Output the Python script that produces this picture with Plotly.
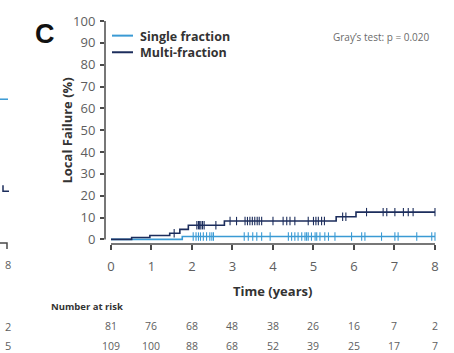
import plotly.graph_objects as go

# Cumulative incidence of local failure (%), step functions
single_event_times = [1.76]
single_event_values = [1.3]
multi_event_times = [0.51, 0.96, 1.45, 1.70, 1.91, 2.80, 5.56, 6.05]
multi_event_values = [0.9, 1.8, 2.8, 4.6, 6.5, 8.4, 10.4, 12.5]

# Censoring times (years)
single_censor = [2.03, 2.10, 2.16, 2.21, 2.28, 2.36, 2.44, 2.49, 2.53,
                 3.29, 3.39, 3.50, 3.60, 3.72, 3.93,
                 4.38, 4.46, 4.54, 4.62, 4.71, 4.79, 4.83, 4.87, 4.95,
                 5.04, 5.08, 5.16, 5.28, 5.37, 5.53, 5.94, 6.19, 6.27,
                 6.68, 7.01, 7.09, 7.55, 7.92, 8.0]
multi_censor = [1.56, 2.12, 2.16, 2.19, 2.22, 2.26, 2.30, 2.59, 2.94,
                3.10, 3.31, 3.37, 3.43, 3.49, 3.55, 3.61, 3.66, 3.72,
                4.00, 4.25, 4.34, 4.42, 4.54, 4.87, 5.00, 5.06, 5.12,
                5.20, 5.27, 5.72, 5.80, 6.31, 6.72, 6.81, 7.01, 7.22,
                7.34, 7.46, 8.0]

risk_times = [0, 1, 2, 3, 4, 5, 6, 7, 8]
single_at_risk = [81, 76, 68, 48, 38, 26, 16, 7, 2]
multi_at_risk = [109, 100, 88, 68, 52, 39, 25, 17, 7]

y_ticks = list(range(0, 101, 10))
t_end = 8.0

LIGHT = "#3a9ad4"
DARK = "#1c2d5c"
AXIS = "#4a4a4a"
TICKTXT = "#5e5e5e"
FONT = "Open Sans"


def step_xy(times, values):
    xs = [0.0] + list(times) + [t_end]
    ys = [0.0] + list(values) + [values[-1]]
    return xs, ys


def value_at(t, times, values):
    v = 0.0
    for tt, vv in zip(times, values):
        if tt <= t:
            v = vv
    return v


fig = go.Figure()

for times, values, cens, color in [
    (single_event_times, single_event_values, single_censor, LIGHT),
    (multi_event_times, multi_event_values, multi_censor, DARK),
]:
    xs, ys = step_xy(times, values)
    fig.add_trace(go.Scatter(x=xs, y=ys, mode="lines", line_shape="hv",
                             line=dict(color=color, width=1.6),
                             showlegend=False, hoverinfo="skip"))
    fig.add_trace(go.Scatter(x=cens, y=[value_at(c, times, values) for c in cens],
                             mode="markers",
                             marker=dict(symbol="line-ns", size=6,
                                         line=dict(color=color, width=1.1)),
                             showlegend=False, hoverinfo="skip"))

# Offset axis spines
shapes = [
    dict(type="line", xref="paper", yref="y", x0=0, x1=0, y0=0, y1=100,
         line=dict(color=AXIS, width=1.5)),
    dict(type="line", xref="x", yref="paper", x0=0, x1=8, y0=0, y1=0,
         line=dict(color=AXIS, width=1.5)),
]

# Legend
leg_x0, leg_x1 = (112 - 105) / 332, (133 - 105) / 332
for label, color, py in [("Single fraction", LIGHT, 31), ("Multi-fraction", DARK, 48)]:
    yy = (244 - py) / 230
    shapes.append(dict(type="line", xref="paper", yref="paper",
                       x0=leg_x0, x1=leg_x1, y0=yy, y1=yy,
                       line=dict(color=color, width=2)))

annotations = []
for label, py in [("Single fraction", 31.5), ("Multi-fraction", 48.5)]:
    annotations.append(dict(text="<b>%s</b>" % label, xref="paper", yref="paper",
                            x=(139 - 105) / 332, y=(244 - py) / 230,
                            xanchor="left", yanchor="middle", showarrow=False,
                            height=15, borderpad=0,
                            font=dict(family=FONT, size=12.5, color="#333333")))

annotations += [
    dict(text="<b>C</b>", xref="paper", yref="paper", x=(45 - 105) / 332,
         y=(244 - 29) / 230, xanchor="center", yanchor="middle", showarrow=False,
         font=dict(family="Liberation Sans", size=27, color="#111111")),
    dict(text="Gray’s test: p = 0.020", xref="paper", yref="paper",
         x=(432 - 105) / 332, y=(244 - 32) / 230, xanchor="right", yanchor="middle",
         showarrow=False, font=dict(family=FONT, size=10, color="#6a6a6a")),
    dict(text="<b>Local Failure (%)</b>", xref="paper", yref="paper",
         x=(67 - 105) / 332, y=(244 - 128) / 230, textangle=-90,
         xanchor="center", yanchor="middle", showarrow=False,
         font=dict(family=FONT, size=13, color="#333333")),
    dict(text="<b>Time (years)</b>", xref="x", yref="paper", x=4,
         y=(244 - 292) / 230, xanchor="center", yanchor="middle", showarrow=False,
         font=dict(family=FONT, size=13, color="#333333")),
    dict(text="<b>Number at risk</b>", xref="paper", yref="paper",
         x=(49 - 105) / 332, y=(244 - 308) / 230, xanchor="left", yanchor="middle",
         showarrow=False, font=dict(family=FONT, size=9.5, color="#333333")),
]

for row, py in [(single_at_risk, 328), (multi_at_risk, 348)]:
    for t, n in zip(risk_times, row):
        annotations.append(dict(text=str(n), xref="x", yref="paper", x=t,
                                y=(244 - py) / 230, xanchor="center",
                                yanchor="middle", showarrow=False,
                                font=dict(family=FONT, size=10.5, color=TICKTXT)))

# Edge of the neighbouring panel
for txt, px, py in [("8", 8, 265), ("2", 8, 328), ("5", 8, 348)]:
    annotations.append(dict(text=txt, xref="paper", yref="paper",
                            x=(px - 105) / 332, y=(244 - py) / 230,
                            xanchor="center", yanchor="middle", showarrow=False,
                            font=dict(family=FONT, size=11, color=TICKTXT)))
shapes += [
    dict(type="line", xref="paper", yref="paper", x0=-105 / 332, x1=(8 - 105) / 332,
         y0=(244 - 96) / 230, y1=(244 - 96) / 230, line=dict(color=LIGHT, width=1.5)),
    dict(type="path", xref="paper", yref="paper",
         path="M %f %f L %f %f L %f %f" % (
             (3 - 105) / 332, (244 - 184) / 230, (3 - 105) / 332, (244 - 190) / 230,
             (9 - 105) / 332, (244 - 190) / 230),
         line=dict(color=DARK, width=1.5)),
    dict(type="path", xref="paper", yref="paper",
         path="M %f %f L %f %f L %f %f" % (
             -105 / 332, (244 - 243) / 230, (7 - 105) / 332, (244 - 243) / 230,
             (7 - 105) / 332, (244 - 249) / 230),
         line=dict(color=AXIS, width=1.5)),
]

fig.update_layout(
    width=454, height=353,
    margin=dict(l=105, r=17, t=14, b=109),
    paper_bgcolor="white", plot_bgcolor="white",
    shapes=shapes, annotations=annotations,
    font=dict(family=FONT),
    xaxis=dict(range=[-0.148, 8.05], tickvals=risk_times, showgrid=False,
               zeroline=False, showline=False, ticks="outside", ticklen=5,
               tickwidth=1.5, tickcolor=AXIS, ticklabelstandoff=5,
               tickfont=dict(family=FONT, size=13, color=TICKTXT)),
    yaxis=dict(range=[-2.1, 100.9], tickvals=y_ticks, showgrid=False,
               zeroline=False, showline=False, ticks="outside", ticklen=4,
               tickwidth=1.5, tickcolor=AXIS, ticklabelstandoff=2,
               tickfont=dict(family=FONT, size=13, color=TICKTXT)),
)

fig.write_html("out.html")
